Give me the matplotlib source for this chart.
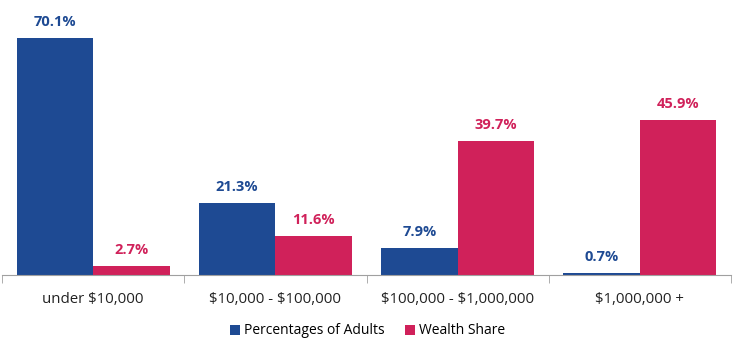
import matplotlib
matplotlib.use("Agg")
import matplotlib.pyplot as plt
import numpy as np

categories = ["under \\$10,000", "\\$10,000 - \\$100,000", "\\$100,000 - \\$1,000,000", "\\$1,000,000 +"]
adults = [70.1, 21.3, 7.9, 0.7]
wealth = [2.7, 11.6, 39.7, 45.9]
series_names = ["Percentages of Adults", "Wealth Share"]
colors = ["#1E4A93", "#D0215A"]

plt.rcParams['font.family'] = ['Open Sans', 'DejaVu Sans']
fig = plt.figure(figsize=(7.35, 3.51), dpi=100)
ax = fig.add_axes([2/735, 76/351, 729/735, 271/351])

x = np.arange(len(categories))
w = 0.42
b1 = ax.bar(x - w/2, adults, w, color=colors[0], label=series_names[0])
b2 = ax.bar(x + w/2, wealth, w, color=colors[1], label=series_names[1])
for bars, vals, c in [(b1, adults, colors[0]), (b2, wealth, colors[1])]:
    for r, v in zip(bars, vals):
        ax.text(r.get_x() + r.get_width()/2, v + 2.6, f"{v:.1f}%", ha='center', va='bottom',
                color=c, fontsize=10.5, fontweight='bold')

ax.set_xlim(-0.5, len(categories) - 0.5)
ax.set_ylim(0, 80)
ax.set_yticks([])
for s in ['top', 'right', 'left']:
    ax.spines[s].set_visible(False)
ax.spines['bottom'].set_color('#A0A0A0')
ax.set_xticks(np.arange(len(categories) + 1) - 0.5, minor=True)
ax.set_xticks(x)
ax.set_xticklabels(categories, fontsize=10.8, color='#222222')
ax.tick_params(axis='x', which='major', length=0, pad=12)
ax.tick_params(axis='x', which='minor', length=6, color='#A0A0A0', direction='out')

fig.legend(handles=[b1, b2], loc='center', bbox_to_anchor=(0.5, 20/351), ncol=2, frameon=False,
           fontsize=10, handlelength=0.7, handleheight=0.7, handletextpad=0.3, columnspacing=1.5)

fig.savefig("out.png", dpi=100)
